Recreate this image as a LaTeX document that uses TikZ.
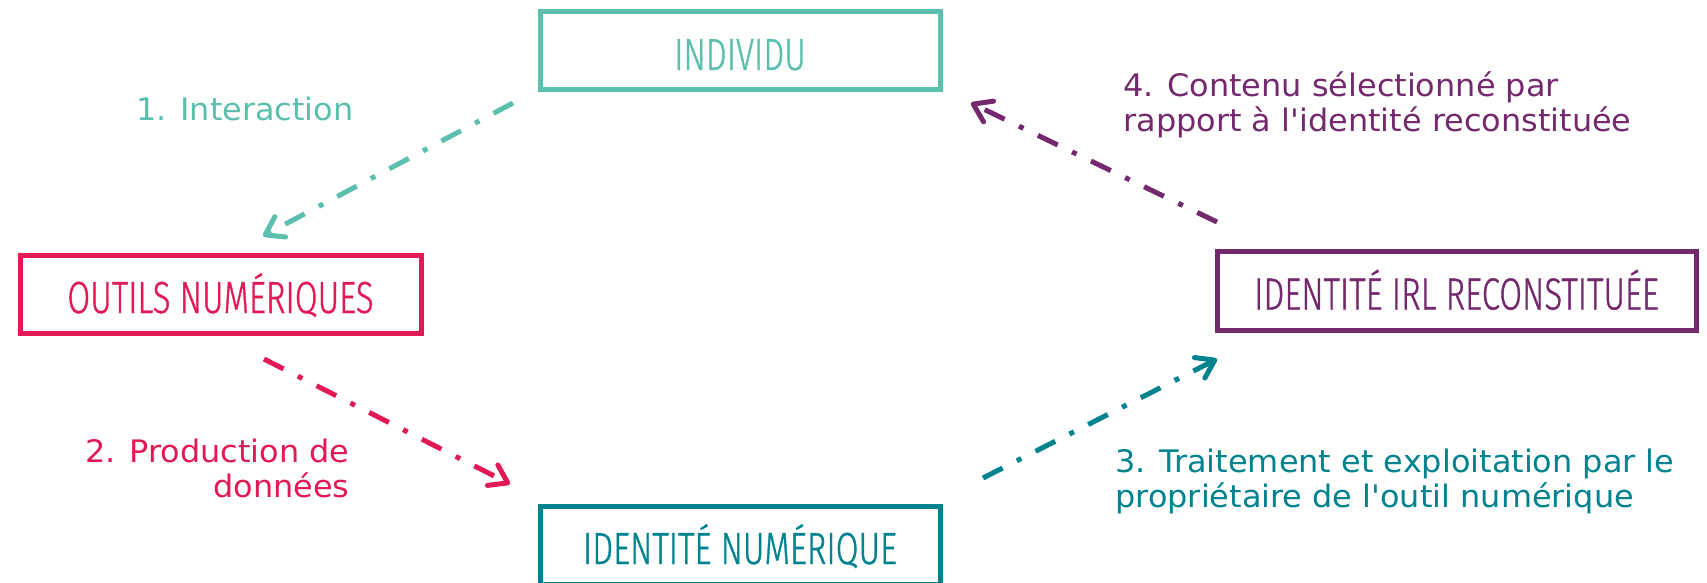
\documentclass[tikz,border=0pt]{standalone}
\usepackage{fontspec}
\setmainfont{DejaVu Sans}[Ligatures=TeXOff, FakeStretch=1.03]
\newfontfamily\boxfont{Fira Sans Light}[FakeStretch=0.735, FakeBold=0.8]
\usetikzlibrary{arrows.meta}
\definecolor{cgreen}{HTML}{5BBFAD}
\definecolor{ccrimson}{HTML}{E11A56}
\definecolor{cteal}{HTML}{00828F}
\definecolor{cpurple}{HTML}{74296F}
\begin{document}
\begin{tikzpicture}[x=0.5pt,y=-0.5pt,
  boxnode/.style={draw, line width=2.5pt, rectangle, inner sep=0pt,
    text height=19pt, text depth=0pt,
    font=\boxfont\fontsize{22.5}{27}\selectfont},
  lbl/.style={font=\fontsize{15.5}{17.5}\selectfont, inner sep=0pt},
  flow/.style={line width=2.5pt, dash pattern=on 11pt off 8pt on 2.5pt off 8pt,
    -{Straight Barb[length=8.5pt,width=11.5pt,round]}}]
\useasboundingbox (0,0) rectangle (1707,583);

\node[boxnode, draw=cgreen, text=cgreen, minimum width=200pt, minimum height=39pt] (ind) at (740,51) {INDIVIDU};
\node[boxnode, draw=ccrimson, text=ccrimson, minimum width=200.5pt, minimum height=39pt] (out) at (220.5,294) {OUTILS NUMÉRIQUES};
\node[boxnode, draw=cteal, text=cteal, minimum width=200pt, minimum height=39pt] (idn) at (740,545) {IDENTITÉ NUMÉRIQUE};
\node[boxnode, draw=cpurple, text=cpurple, minimum width=239.5pt, minimum height=39.5pt] (irl) at (1456.5,290.5) {IDENTITÉ IRL RECONSTITUÉE};

\coordinate (a1s) at (513,103);
\coordinate (a1e) at (263,236);
\coordinate (a2s) at (264,359);
\coordinate (a2e) at (510,484);
\coordinate (a3s) at (983,478);
\coordinate (a3e) at (1217,359);
\coordinate (a4s) at (1217,222);
\coordinate (a4e) at (971,103);

\draw[flow, cgreen] (a1s) -- (a1e);
\draw[flow, ccrimson] (a2s) -- (a2e);
\draw[flow, cteal] (a3s) -- (a3e);
\draw[flow, cpurple] (a4s) -- (a4e);

\node[lbl, text=cgreen, anchor=base west] (l1) at (136,120) {1. Interaction};
\node[lbl, text=ccrimson, align=right, anchor=base east] (l2) at (350,497) {2. Production de\\données};
\node[lbl, text=cteal, align=left, anchor=base west] (l3) at (1115,507) {3. Traitement et exploitation par le\\propriétaire de l'outil numérique};
\node[lbl, text=cpurple, align=left, anchor=base west] (l4) at (1123,132) {4. Contenu sélectionné par\\rapport à l'identité reconstituée};
\end{tikzpicture}
\end{document}
